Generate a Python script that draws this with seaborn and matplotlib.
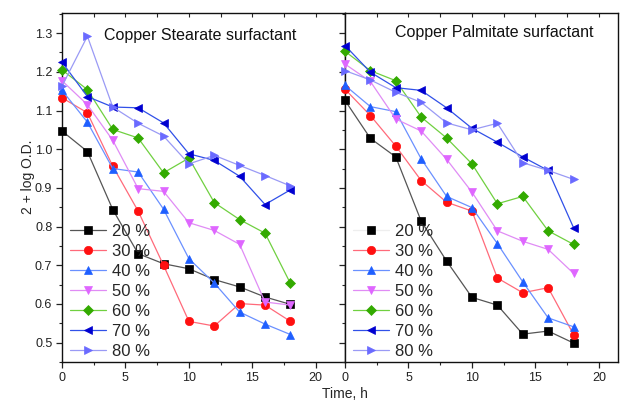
import numpy as np
import pandas as pd
import matplotlib
matplotlib.use("Agg")
import matplotlib.pyplot as plt
import seaborn as sns
from matplotlib.ticker import MultipleLocator

# data
time_h = [0, 2, 4, 6, 8, 10, 12, 14, 16, 18]
labels = ["20 %", "30 %", "40 %", "50 %", "60 %", "70 %", "80 %"]

stearate = {
    "20 %": [1.047, 0.994, 0.844, 0.730, 0.704, 0.691, 0.663, 0.644, 0.618, 0.599],
    "30 %": [1.133, 1.094, 0.956, 0.840, 0.700, 0.555, 0.543, 0.601, 0.597, 0.555],
    "40 %": [1.152, 1.070, 0.950, 0.941, 0.845, 0.717, 0.654, 0.579, 0.548, 0.521],
    "50 %": [1.177, 1.115, 1.023, 0.898, 0.891, 0.810, 0.790, 0.754, 0.605, 0.597],
    "60 %": [1.205, 1.154, 1.051, 1.029, 0.939, 0.977, 0.862, 0.818, 0.783, 0.653],
    "70 %": [1.225, 1.136, 1.109, 1.107, 1.068, 0.988, 0.971, 0.930, 0.857, 0.895],
    "80 %": [1.163, 1.292, 1.109, 1.067, 1.034, 0.962, 0.984, 0.958, 0.932, 0.905],
}
palmitate = {
    "20 %": [1.126, 1.028, 0.980, 0.814, 0.711, 0.617, 0.597, 0.522, 0.530, 0.499],
    "30 %": [1.155, 1.087, 1.008, 0.919, 0.863, 0.840, 0.667, 0.629, 0.642, 0.521],
    "40 %": [1.165, 1.110, 1.097, 0.975, 0.878, 0.849, 0.756, 0.657, 0.564, 0.541],
    "50 %": [1.220, 1.175, 1.078, 1.047, 0.974, 0.889, 0.789, 0.762, 0.741, 0.679],
    "60 %": [1.253, 1.203, 1.177, 1.083, 1.029, 0.962, 0.859, 0.878, 0.789, 0.754],
    "70 %": [1.268, 1.199, 1.159, 1.152, 1.107, 1.054, 1.018, 0.980, 0.945, 0.797],
    "80 %": [1.203, 1.179, 1.147, 1.121, 1.068, 1.050, 1.067, 0.965, 0.945, 0.922],
}

markers = ["s", "o", "^", "v", "D", "<", ">"]
marker_colors = ["#000000", "#ff1010", "#1f5fff", "#df66ff", "#33aa00", "#0000d0", "#6a6aff"]
line_colors = ["#555555", "#ff6a7a", "#6a90ff", "#e08cf5", "#70d040", "#3050e8", "#9a9af5"]

sns.set_theme(style="ticks")
plt.rcParams["font.family"] = ["Liberation Sans", "DejaVu Sans"]

fig = plt.figure(figsize=(6.21, 4.05), dpi=100)
W, H = 621, 405
bottom = 1 - 362 / H
height = (362 - 13) / H
ax_l = fig.add_axes([62 / W, bottom, 283 / W, height])
ax_r = fig.add_axes([345 / W, bottom, 273 / W, height])


def draw_panel(ax, data, title, title_xy):
    df = pd.DataFrame({"time": time_h})
    for i, lab in enumerate(labels):
        df[lab] = data[lab]
        sz = 5.2 if markers[i] == "D" else 6.0
        sns.lineplot(data=df, x="time", y=lab, ax=ax, color=line_colors[i],
                     linewidth=0.9, marker=markers[i], markersize=sz,
                     markerfacecolor=marker_colors[i], markeredgecolor=marker_colors[i],
                     markeredgewidth=0.5, label=lab, clip_on=False, zorder=3 + i)
    ax.set_ylim(0.45, 1.352)
    ax.set_xlabel("")
    ax.set_ylabel("")
    ax.xaxis.set_major_locator(MultipleLocator(5))
    ax.xaxis.set_minor_locator(MultipleLocator(2.5))
    ax.yaxis.set_major_locator(MultipleLocator(0.1))
    ax.yaxis.set_minor_locator(MultipleLocator(0.05))
    ax.tick_params(axis="both", which="major", direction="out", length=4, width=0.9,
                   labelsize=9, pad=3, colors="#222222")
    ax.tick_params(axis="both", which="minor", direction="out", length=2, width=0.8)
    for sp in ax.spines.values():
        sp.set_visible(True)
        sp.set_linewidth(1.0)
        sp.set_color("#111111")

    # inward ticks along the top edge, no labels
    top = ax.secondary_xaxis("top")
    top.xaxis.set_major_locator(MultipleLocator(2.5))
    top.tick_params(direction="in", length=3, width=0.8, labeltop=False)
    top.spines["top"].set_visible(False)

    ax.text(title_xy[0], title_xy[1], title, transform=ax.transAxes,
            fontsize=11.5, ha="center", va="center", color="#111111")
    leg = ax.legend(loc="lower left", bbox_to_anchor=(0.01, -0.005), frameon=False,
                    fontsize=12, handlelength=2.2, handletextpad=0.35,
                    labelspacing=0.3, borderpad=0.1, borderaxespad=0.2)
    return leg


draw_panel(ax_l, stearate, "Copper Stearate surfactant", (0.49, 0.935))
ax_l.set_xlim(0, 22.3)
ax_l.set_yticks(np.round(np.arange(0.5, 1.31, 0.1), 1))
ax_l.set_yticklabels([f"{v:.1f}" for v in np.arange(0.5, 1.31, 0.1)])

leg_r = draw_panel(ax_r, palmitate, "Copper Palmitate surfactant", (0.545, 0.945))
ax_r.set_xlim(0, 21.5)
ax_r.tick_params(axis="y", labelleft=False)
leg_r.legend_handles[0].set_color("#eeeeee")

ax_l.set_ylabel("2 + log O.D.", fontsize=10)
ax_l.yaxis.set_label_coords(-0.095, 0.53)
fig.text(345 / W, 1 - 394 / H, "Time, h", ha="center", va="center", fontsize=10)

fig.savefig("out.png", dpi=100)
